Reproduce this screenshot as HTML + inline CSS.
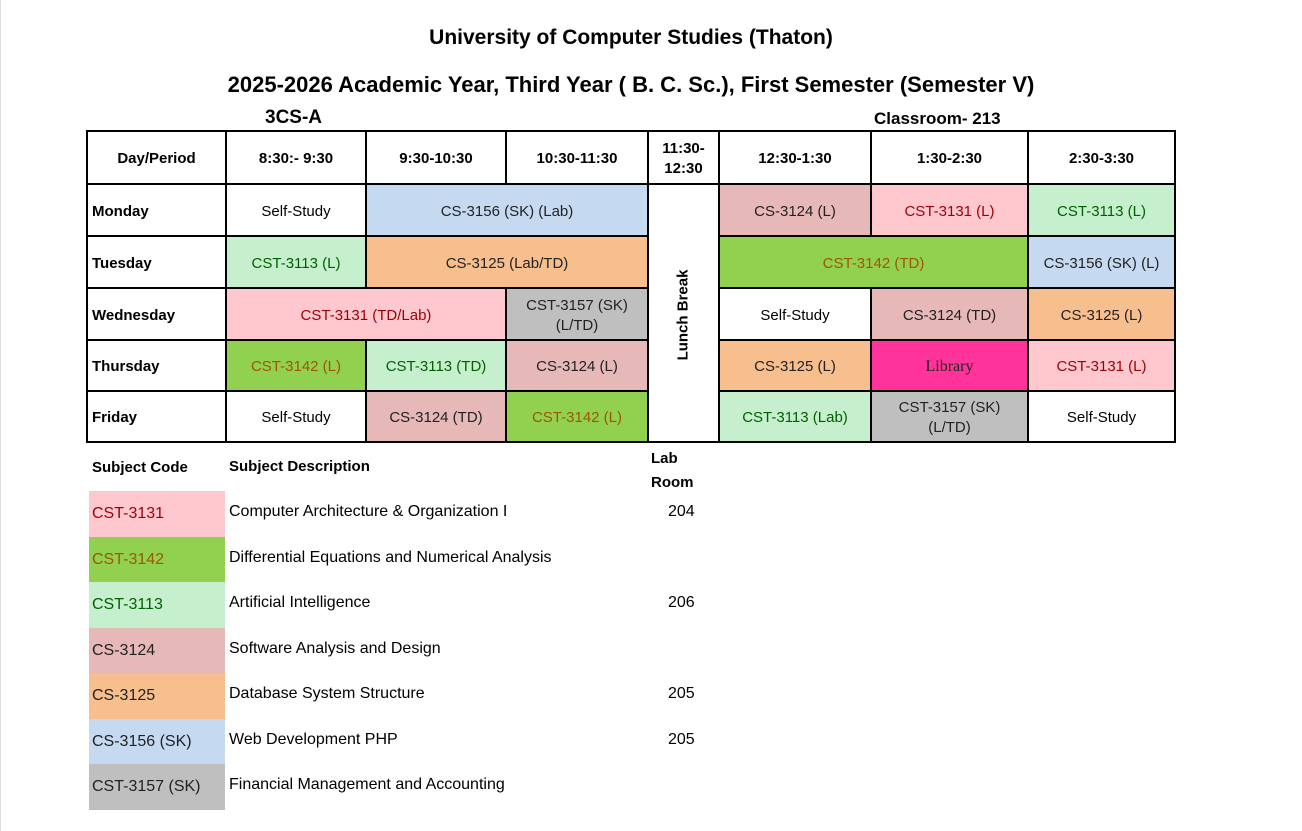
<!DOCTYPE html>
<html><head><meta charset="utf-8">
<style>
body{margin:0;width:1302px;height:831px;background:#fff;position:relative;overflow:hidden;font-family:"Liberation Sans",sans-serif;color:#000}
.a{position:absolute}
.c{position:absolute;box-sizing:border-box;display:flex;align-items:center;justify-content:center;text-align:center;font-size:15px;line-height:20px;border-right:2px solid #000;border-bottom:2px solid #000;padding-top:3px}
.b{font-weight:bold}
.l{justify-content:flex-start;padding-left:4px}
.pk{background:#ffc7ce;color:#9c0006}
.gr{background:#92d050;color:#9c5700}
.lg{background:#c6efce;color:#006100}
.ro{background:#e6b8b7;color:#222}
.or{background:#f8bf8e;color:#222}
.bl{background:#c5d9f1;color:#222}
.gy{background:#bfbfbf;color:#222}
.mg{background:#ff3399;color:#222;font-family:"Liberation Serif",serif;font-size:16px}
.lc{position:absolute;left:89px;width:136px;height:46px;font-size:16px;display:flex;align-items:center;padding-left:3px;box-sizing:border-box}
.ld{position:absolute;left:229px;font-size:16px;height:46px;display:flex;align-items:center}
.lr{position:absolute;left:668px;font-size:16px;height:46px;display:flex;align-items:center}
</style></head><body>
<div class="a" style="left:0;top:0;width:1px;height:831px;background:#ddd"></div>
<div class="a b" style="left:0;width:1262px;top:26px;text-align:center;font-size:21px">University of Computer Studies (Thaton)</div>
<div class="a b" style="left:0;width:1262px;top:72px;text-align:center;font-size:22px">2025-2026 Academic Year, Third Year ( B. C. Sc.), First Semester (Semester V)</div>
<div class="a b" style="left:265px;top:107px;font-size:19px">3CS-A</div>
<div class="a b" style="left:874px;top:109px;font-size:17px">Classroom- 213</div>

<div class="a" style="left:87px;top:130px;width:1089px;height:2px;background:#000"></div>
<div class="a" style="left:86px;top:130px;width:2px;height:313px;background:#000"></div>

<div class="c b" style="left:88px;top:132px;width:139px;height:53px">Day/Period</div>
<div class="c b" style="left:227px;top:132px;width:140px;height:53px">8:30:- 9:30</div>
<div class="c b" style="left:367px;top:132px;width:140px;height:53px">9:30-10:30</div>
<div class="c b" style="left:507px;top:132px;width:142px;height:53px">10:30-11:30</div>
<div class="c b" style="left:649px;top:132px;width:71px;height:53px">11:30-<br>12:30</div>
<div class="c b" style="left:720px;top:132px;width:152px;height:53px">12:30-1:30</div>
<div class="c b" style="left:872px;top:132px;width:157px;height:53px">1:30-2:30</div>
<div class="c b" style="left:1029px;top:132px;width:147px;height:53px">2:30-3:30</div>

<div class="c b" style="left:649px;top:185px;width:71px;height:258px"><span style="transform:rotate(-90deg);white-space:nowrap;display:inline-block">Lunch Break</span></div>

<div class="c b l" style="left:88px;top:185px;width:139px;height:52px">Monday</div>
<div class="c" style="left:227px;top:185px;width:140px;height:52px">Self-Study</div>
<div class="c bl" style="left:367px;top:185px;width:282px;height:52px">CS-3156 (SK) (Lab)</div>
<div class="c ro" style="left:720px;top:185px;width:152px;height:52px">CS-3124 (L)</div>
<div class="c pk" style="left:872px;top:185px;width:157px;height:52px">CST-3131 (L)</div>
<div class="c lg" style="left:1029px;top:185px;width:147px;height:52px">CST-3113 (L)</div>

<div class="c b l" style="left:88px;top:237px;width:139px;height:52px">Tuesday</div>
<div class="c lg" style="left:227px;top:237px;width:140px;height:52px">CST-3113 (L)</div>
<div class="c or" style="left:367px;top:237px;width:282px;height:52px">CS-3125 (Lab/TD)</div>
<div class="c gr" style="left:720px;top:237px;width:309px;height:52px">CST-3142 (TD)</div>
<div class="c bl" style="left:1029px;top:237px;width:147px;height:52px">CS-3156 (SK) (L)</div>

<div class="c b l" style="left:88px;top:289px;width:139px;height:52px">Wednesday</div>
<div class="c pk" style="left:227px;top:289px;width:280px;height:52px">CST-3131 (TD/Lab)</div>
<div class="c gy" style="left:507px;top:289px;width:142px;height:52px">CST-3157 (SK)<br>(L/TD)</div>
<div class="c" style="left:720px;top:289px;width:152px;height:52px">Self-Study</div>
<div class="c ro" style="left:872px;top:289px;width:157px;height:52px">CS-3124 (TD)</div>
<div class="c or" style="left:1029px;top:289px;width:147px;height:52px">CS-3125 (L)</div>

<div class="c b l" style="left:88px;top:341px;width:139px;height:51px">Thursday</div>
<div class="c gr" style="left:227px;top:341px;width:140px;height:51px">CST-3142 (L)</div>
<div class="c lg" style="left:367px;top:341px;width:140px;height:51px">CST-3113 (TD)</div>
<div class="c ro" style="left:507px;top:341px;width:142px;height:51px">CS-3124 (L)</div>
<div class="c or" style="left:720px;top:341px;width:152px;height:51px">CS-3125 (L)</div>
<div class="c mg" style="left:872px;top:341px;width:157px;height:51px">Library</div>
<div class="c pk" style="left:1029px;top:341px;width:147px;height:51px">CST-3131 (L)</div>

<div class="c b l" style="left:88px;top:392px;width:139px;height:51px">Friday</div>
<div class="c" style="left:227px;top:392px;width:140px;height:51px">Self-Study</div>
<div class="c ro" style="left:367px;top:392px;width:140px;height:51px">CS-3124 (TD)</div>
<div class="c gr" style="left:507px;top:392px;width:142px;height:51px">CST-3142 (L)</div>
<div class="c lg" style="left:720px;top:392px;width:152px;height:51px">CST-3113 (Lab)</div>
<div class="c gy" style="left:872px;top:392px;width:157px;height:51px">CST-3157 (SK)<br>(L/TD)</div>
<div class="c" style="left:1029px;top:392px;width:147px;height:51px">Self-Study</div>

<div class="a b" style="left:92px;top:459px;font-size:15px">Subject Code</div>
<div class="a b" style="left:229px;top:458px;font-size:15px">Subject Description</div>
<div class="a b" style="left:651px;top:447px;font-size:15px;line-height:24px">Lab<br>Room</div>

<div class="lc pk" style="top:491px">CST-3131</div><div class="ld" style="top:489px">Computer Architecture &amp; Organization I</div><div class="lr" style="top:489px">204</div>
<div class="lc gr" style="top:537px">CST-3142</div><div class="ld" style="top:535px">Differential Equations and Numerical Analysis</div>
<div class="lc lg" style="top:582px">CST-3113</div><div class="ld" style="top:580px">Artificial Intelligence</div><div class="lr" style="top:580px">206</div>
<div class="lc ro" style="top:628px">CS-3124</div><div class="ld" style="top:626px">Software Analysis and Design</div>
<div class="lc or" style="top:673px">CS-3125</div><div class="ld" style="top:671px">Database System Structure</div><div class="lr" style="top:671px">205</div>
<div class="lc bl" style="top:719px">CS-3156 (SK)</div><div class="ld" style="top:717px">Web Development PHP</div><div class="lr" style="top:717px">205</div>
<div class="lc gy" style="top:764px">CST-3157 (SK)</div><div class="ld" style="top:762px">Financial Management and Accounting</div>
</body></html>
